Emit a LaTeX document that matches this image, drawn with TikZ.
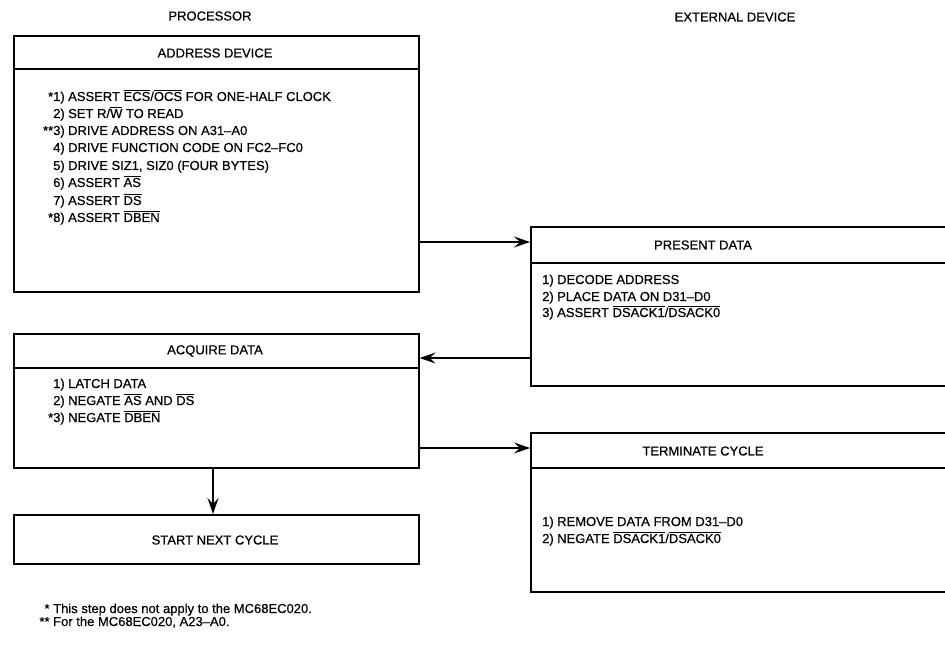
\documentclass[tikz,border=0pt]{standalone}
\usepackage{fontspec}
\setmainfont{Liberation Sans}[FakeBold=0.5]
\usetikzlibrary{arrows.meta}
\newcommand{\ovl}[1]{$\overline{\mbox{#1}}$}
\newcommand{\num}[2]{\llap{#1}\makebox[15pt][l]{#2}}
\begin{document}
\begin{tikzpicture}[x=1pt,y=-1pt,
  box/.style={draw, line width=1.6pt, inner sep=0pt, anchor=north west},
  hline/.style={line width=1.3pt},
  ttl/.style={font=\fontsize{13}{15}\selectfont},
  item/.style={anchor=base west, inner sep=0pt, font=\fontsize{13}{15}\selectfont},
  foot/.style={anchor=base west, inner sep=0pt, font=\fontsize{13}{15}\selectfont},
  arr/.style={-{Stealth[length=16pt,width=11pt,inset=6pt]}, line width=1.3pt}]
\useasboundingbox (0,0) rectangle (945,647);
\clip (0,0) rectangle (945,647);
\fill[white] (0,0) rectangle (945,647);

% column headings
\node[ttl] (proc) at (210,16) {PROCESSOR};
\node[ttl] (ext) at (735,17) {EXTERNAL DEVICE};

% ADDRESS DEVICE
\node[box, minimum width=405pt, minimum height=256pt] (addr) at (13,35) {};
\draw[hline] ([yshift=-34pt]addr.north west) -- ([yshift=-34pt]addr.north east);
\node[ttl] (addrT) at (215,53) {ADDRESS DEVICE};
\node[item] (a1) at (53,101) {\num{*}{1)}ASSERT \ovl{ECS}/\ovl{OCS} FOR ONE-HALF CLOCK};
\node[item] (a2) at (53,118) {\num{}{2)}SET R/\ovl{W} TO READ};
\node[item] (a3) at (53,135) {\num{**}{3)}DRIVE ADDRESS ON A31--A0};
\node[item] (a4) at (53,152) {\num{}{4)}DRIVE FUNCTION CODE ON FC2--FC0};
\node[item] (a5) at (53,170) {\num{}{5)}DRIVE SIZ1, SIZ0 (FOUR BYTES)};
\node[item] (a6) at (53,187) {\num{}{6)}ASSERT \ovl{AS}};
\node[item] (a7) at (53,205) {\num{}{7)}ASSERT \ovl{DS}};
\node[item] (a8) at (53,222) {\num{*}{8)}ASSERT \ovl{DBEN}};

% PRESENT DATA
\node[box, minimum width=440pt, minimum height=159pt] (pres) at (530,226) {};
\draw[hline] ([yshift=-37pt]pres.north west) -- ([yshift=-37pt]pres.north east);
\node[ttl] (presT) at (703,245) {PRESENT DATA};
\node[item] (p1) at (542,284) {\num{}{1)}DECODE ADDRESS};
\node[item] (p2) at (542,301) {\num{}{2)}PLACE DATA ON D31--D0};
\node[item] (p3) at (542,317) {\num{}{3)}ASSERT \ovl{DSACK1}/\ovl{DSACK0}};

% ACQUIRE DATA
\node[box, minimum width=405pt, minimum height=134pt] (acq) at (13,333) {};
\draw[hline] ([yshift=-35pt]acq.north west) -- ([yshift=-35pt]acq.north east);
\node[ttl] (acqT) at (215,351) {ACQUIRE DATA};
\node[item] (q1) at (53,388) {\num{}{1)}LATCH DATA};
\node[item] (q2) at (53,405) {\num{}{2)}NEGATE \ovl{AS} AND \ovl{DS}};
\node[item] (q3) at (53,422) {\num{*}{3)}NEGATE \ovl{DBEN}};

% TERMINATE CYCLE
\node[box, minimum width=440pt, minimum height=159pt] (term) at (530,432) {};
\draw[hline] ([yshift=-36pt]term.north west) -- ([yshift=-36pt]term.north east);
\node[ttl] (termT) at (703,451) {TERMINATE CYCLE};
\node[item] (t1) at (542,526) {\num{}{1)}REMOVE DATA FROM D31--D0};
\node[item] (t2) at (542,543) {\num{}{2)}NEGATE \ovl{DSACK1}/\ovl{DSACK0}};

% START NEXT CYCLE
\node[box, minimum width=405pt, minimum height=49pt] (start) at (13,514) {};
\node[ttl] (startT) at (215,540) {START NEXT CYCLE};

% connectors
\coordinate (y1) at (0,242);
\coordinate (y2) at (0,358);
\coordinate (y3) at (0,448);
\coordinate (xs) at (213,0);
\draw[arr] (addr.east |- y1) -- (pres.west |- y1);
\draw[arr] (pres.west |- y2) -- (acq.east |- y2);
\draw[arr] (acq.east |- y3) -- (term.west |- y3);
\draw[arr] (acq.south -| xs) -- (start.north -| xs);

% footnotes
\node[foot] (f1) at (53,613) {\llap{* }This step does not apply to the MC68EC020.};
\node[foot] (f2) at (53,626) {\llap{** }For the MC68EC020, A23--A0.};
\end{tikzpicture}
\end{document}
